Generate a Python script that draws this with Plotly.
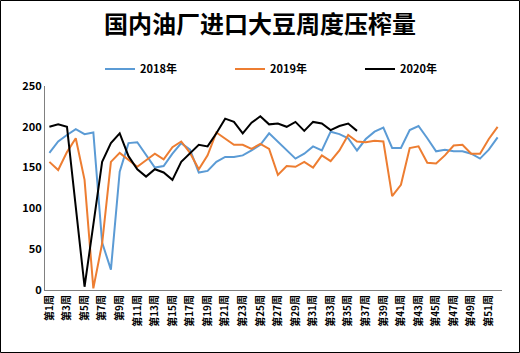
import plotly.graph_objects as go

weeks = list(range(1, 53))
tick_weeks = list(range(1, 52, 2))
tick_labels = [f"第{w}周" for w in tick_weeks]

y2018 = [168, 182, 190, 197, 191, 193, 58, 25, 145, 180, 181, 166, 150, 152, 167, 180, 172, 144, 146, 157,
         163, 163, 165, 171, 178, 192, 182, 172, 161, 167, 176, 171, 194, 191, 186, 171, 185, 194, 199, 174,
         174, 196, 201, 186, 170, 172, 170, 170, 167, 161, 172, 187]
y2019 = [157, 147, 169, 186, 135, 2, 57, 157, 168, 159, 151, 159, 167, 160, 175, 182, 168, 148, 165, 193,
         185, 178, 178, 173, 179, 173, 141, 152, 151, 157, 150, 165, 158, 171, 190, 182, 181, 183, 182, 115,
         129, 174, 176, 156, 155, 165, 177, 178, 167, 167, 185, 200]
y2020 = [200, 203, 200, 100, 4, 80, 157, 180, 192, 164, 148, 139, 148, 144, 135, 157, 167, 178, 176, 192,
         210, 206, 192, 205, 213, 203, 204, 200, 206, 195, 206, 204, 196, 201, 204, 195]

series = [("2018年", y2018, "#5B9BD5"), ("2019年", y2019, "#ED7D31"), ("2020年", y2020, "#000000")]

FONT = "Noto Sans CJK SC"
fig = go.Figure()
for name, ys, color in series:
    fig.add_trace(go.Scatter(x=weeks[:len(ys)], y=ys, mode="lines", name=name,
                             line=dict(color=color, width=2)))

W, H = 520, 353
L, R, T, B = 45, 18, 86, 63
pw, ph = W - L - R, H - T - B

fig.update_layout(
    width=W, height=H,
    margin=dict(l=L, r=R, t=T, b=B),
    paper_bgcolor="white", plot_bgcolor="white",
    title=dict(text="国内油厂进口大豆周度压榨量", x=0.5, xanchor="center",
               y=1 - 25 / H, yanchor="middle",
               font=dict(family=FONT, size=24, color="black", weight="bold")),
    legend=dict(orientation="h", x=(100 - L) / pw, xanchor="left",
                y=(H - B - 69) / ph, yanchor="middle", entrywidth=85,
                font=dict(family=FONT, size=11, color="black", weight="bold"),
                bgcolor="rgba(0,0,0,0)"),
    xaxis=dict(range=[0.5, 52.5], tickvals=tick_weeks, ticktext=tick_labels, tickangle=-90,
               showgrid=False, zeroline=False, showline=True, linecolor="#808080", linewidth=1,
               ticks="", tickfont=dict(family=FONT, size=10, color="black", weight="bold")),
    yaxis=dict(range=[0, 250], tickvals=[0, 50, 100, 150, 200, 250], showgrid=False, zeroline=False,
               showline=True, linecolor="#808080", linewidth=1, ticks="",
               tickfont=dict(family=FONT, size=11, color="black", weight="bold")),
    shapes=[dict(type="rect", xref="paper", yref="paper",
                 x0=(0.5 - L) / pw, x1=(W - 0.5 - L) / pw,
                 y0=(H - B - (H - 0.5)) / ph, y1=(H - B - 0.5) / ph,
                 line=dict(color="black", width=1), fillcolor="rgba(0,0,0,0)", layer="above")],
)

fig.write_html("out.html")
